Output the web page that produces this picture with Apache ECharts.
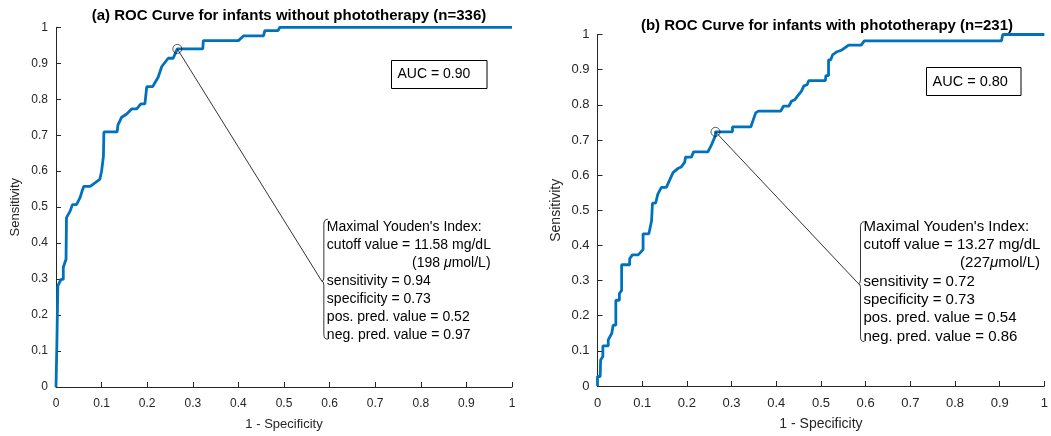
<!DOCTYPE html>
<html>
<head>
<meta charset="utf-8">
<script src="https://cdn.jsdelivr.net/npm/echarts@6/dist/echarts.min.js"></script>
<style>
html,body{margin:0;padding:0;background:#fff;}
#c{width:1051px;height:436px;}
</style>
</head>
<body>
<div id="c"></div>
<script>
// ---- Data ----
const titleA = "(a) ROC Curve for infants without phototherapy (n=336)";
const titleB = "(b) ROC Curve for infants with phototherapy (n=231)";
const xName = "1 - Specificity";
const yName = "Sensitivity";
const tickValues = [0,0.1,0.2,0.3,0.4,0.5,0.6,0.7,0.8,0.9,1];

// (a) without phototherapy: 1 - specificity and sensitivity
const fprA = [0,0.002,0.002,0.004,0.004,0.011,0.016,0.016,0.022,0.023,0.023,0.031,0.036,0.045,0.053,0.057,0.061,0.075,0.096,0.100,0.104,0.105,0.134,0.136,0.144,0.155,0.166,0.177,0.186,0.195,0.199,0.212,0.224,0.232,0.246,0.257,0.266,0.322,0.323,0.400,0.411,0.455,0.458,0.487,0.491,1];
const tprA = [0,0,0.125,0.13,0.281,0.299,0.299,0.333,0.355,0.355,0.471,0.489,0.507,0.507,0.527,0.544,0.558,0.558,0.577,0.60,0.641,0.709,0.709,0.729,0.750,0.759,0.773,0.773,0.787,0.787,0.835,0.835,0.861,0.891,0.914,0.914,0.94,0.94,0.963,0.963,0.976,0.976,0.991,0.991,1,1];
const optimalA = [0.266, 0.94];
const aucA = "AUC = 0.90";
const youdenA = ["Maximal Youden's Index:", "cutoff value = 11.58 mg/dL", "(198 ", "μ", "mol/L)", "sensitivity = 0.94", "specificity = 0.73", "pos. pred. value = 0.52", "neg. pred. value = 0.97"];
const calloutA = [0.583, 0.294];

// (b) with phototherapy
const fprB = [0,0,0.006,0.007,0.012,0.012,0.024,0.024,0.032,0.035,0.041,0.041,0.049,0.049,0.054,0.054,0.072,0.072,0.078,0.091,0.102,0.102,0.115,0.121,0.123,0.130,0.135,0.137,0.143,0.154,0.169,0.180,0.187,0.195,0.197,0.210,0.215,0.247,0.254,0.264,0.264,0.302,0.302,0.343,0.354,0.360,0.410,0.416,0.428,0.434,0.442,0.447,0.456,0.462,0.469,0.473,0.510,0.511,0.517,0.517,0.522,0.526,0.536,0.539,0.547,0.562,0.590,0.597,0.904,0.907,1];
const tprB = [0,0.027,0.027,0.074,0.084,0.114,0.114,0.131,0.150,0.173,0.173,0.244,0.244,0.263,0.272,0.345,0.345,0.362,0.373,0.373,0.388,0.433,0.433,0.470,0.520,0.520,0.546,0.551,0.565,0.565,0.607,0.619,0.623,0.636,0.651,0.651,0.666,0.666,0.683,0.713,0.723,0.723,0.737,0.737,0.777,0.782,0.782,0.796,0.796,0.810,0.815,0.824,0.838,0.854,0.857,0.869,0.869,0.883,0.883,0.928,0.928,0.942,0.951,0.956,0.956,0.970,0.970,0.982,0.982,1,1];
const optimalB = [0.264, 0.723];
const aucB = "AUC = 0.80";
const youdenB = ["Maximal Youden's Index:", "cutoff value = 13.27 mg/dL", "(227", "μ", "mol/L)", "sensitivity = 0.72", "specificity = 0.73", "pos. pred. value = 0.54", "neg. pred. value = 0.86"];
const calloutB = [0.584, 0.291];

// ---- Chart ----
const FONT = "'Liberation Sans', Arial, Helvetica, sans-serif";
const INK = '#262626';
const BLUE = '#0072BD';

function zip(a, b){ return a.map((v,i)=>[v,b[i]]); }
const mctx = document.createElement('canvas').getContext('2d');
function textW(t, fs){ mctx.font = fs + 'px ' + FONT; return mctx.measureText(t).width; }

function axisX(gi, fs){
  return {
    type:'value', gridIndex:gi, min:0, max:1, interval:0.1,
    name:xName, nameLocation:'middle', nameGap:31,
    nameTextStyle:{fontFamily:FONT, fontSize:fs, color:INK},
    axisLine:{show:true, lineStyle:{color:INK, width:1}},
    axisTick:{show:true, inside:true, length:5, lineStyle:{color:INK}},
    axisLabel:{fontFamily:FONT, fontSize:fs-1, color:INK, margin:11,
      formatter:v=>String(+v.toFixed(1))},
    splitLine:{show:false}
  };
}
function axisY(gi, fs){
  return {
    type:'value', gridIndex:gi, min:0, max:1, interval:0.1,
    name:yName, nameLocation:'middle', nameGap:34, nameRotate:90,
    nameTextStyle:{fontFamily:FONT, fontSize:fs, color:INK},
    axisLine:{show:true, lineStyle:{color:INK, width:1}},
    axisTick:{show:true, inside:true, length:5, lineStyle:{color:INK}},
    axisLabel:{fontFamily:FONT, fontSize:fs-1, color:INK, margin:8,
      formatter:v=>String(+v.toFixed(1))},
    splitLine:{show:false}
  };
}

function seriesFor(gi, fpr, tpr, opt, callout){
  return [
    {type:'line', xAxisIndex:gi, yAxisIndex:gi, data:zip(fpr,tpr), showSymbol:false, symbol:'none',
     lineStyle:{color:BLUE, width:2.8}, z:3, animation:false},
    {type:'line', xAxisIndex:gi, yAxisIndex:gi, data:[opt, callout], symbol:'none',
     lineStyle:{color:'#000', width:0.8}, z:4, animation:false},
    {type:'scatter', xAxisIndex:gi, yAxisIndex:gi, data:[opt], symbol:'circle', symbolSize:9,
     itemStyle:{color:'rgba(0,0,0,0)', borderColor:'#000', borderWidth:0.8}, z:5, animation:false}
  ];
}

const chart = echarts.init(document.getElementById('c'), null, {renderer:'canvas'});
chart.setOption({
  backgroundColor:'#fff',
  animation:false,
  grid:[
    {left:56, top:27.3, width:456, height:360.7},
    {left:597.5, top:34.5, width:449.5, height:353.5}
  ],
  title:[
    {text:titleA, left:284, top:3, textAlign:'center',
     textStyle:{fontFamily:FONT, fontSize:15, fontWeight:'bold', color:'#000'}},
    {text:titleB, left:822, top:13, textAlign:'center',
     textStyle:{fontFamily:FONT, fontSize:15, fontWeight:'bold', color:'#000'}}
  ],
  xAxis:[axisX(0,13), axisX(1,14)],
  yAxis:[axisY(0,13), axisY(1,14)],
  series:[].concat(seriesFor(0,fprA,tprA,optimalA,calloutA), seriesFor(1,fprB,tprB,optimalB,calloutB))
});

function annotation(gi, callout, lines, fs, lineGap, firstOff, box, auc, afs){
  const p = chart.convertToPixel({gridIndex:gi}, callout);
  const tx = p[0], ty = p[1];
  const els = [];
  const top = ty - 62, bot = ty + 58, vx = tx + 2;
  const st = {stroke:'#000', lineWidth:0.8, fill:null};
  els.push({type:'bezierCurve', shape:{x1:vx+4, y1:top, cpx1:vx, cpy1:top, x2:vx, y2:top+5}, style:st, z:10});
  els.push({type:'line', shape:{x1:vx, y1:top+5, x2:vx, y2:ty-4}, style:st, z:10});
  els.push({type:'bezierCurve', shape:{x1:vx, y1:ty-4, cpx1:vx, cpy1:ty, x2:tx, y2:ty}, style:st, z:10});
  els.push({type:'bezierCurve', shape:{x1:tx, y1:ty, cpx1:vx, cpy1:ty, x2:vx, y2:ty+4}, style:st, z:10});
  els.push({type:'line', shape:{x1:vx, y1:ty+4, x2:vx, y2:bot-5}, style:st, z:10});
  els.push({type:'bezierCurve', shape:{x1:vx, y1:bot-5, cpx1:vx, cpy1:bot, x2:vx+4, y2:bot}, style:st, z:10});
  const x0 = tx + 5;
  const rows = [lines[0], lines[1], null, lines[5], lines[6], lines[7], lines[8]];
  rows.forEach((t,i)=>{
    if(t===null) return;
    els.push({type:'text', x:x0, y:ty+firstOff+i*lineGap,
      style:{text:t, fontFamily:FONT, fontSize:fs, fill:'#000', verticalAlign:'middle', align:'left'}, z:10});
  });
  const rightEdge = x0 + textW(lines[1], fs);
  const muW = textW(lines[2], fs) + textW(lines[3], fs) + textW(lines[4], fs);
  els.push({type:'text', x:rightEdge - muW, y:ty+firstOff+2*lineGap,
    style:{text:'{a|'+lines[2]+'}{m|'+lines[3]+'}{a|'+lines[4]+'}', verticalAlign:'middle', align:'left',
      rich:{a:{fontFamily:FONT, fontSize:fs, fill:'#000', color:'#000'},
            m:{fontFamily:FONT, fontSize:fs, fontStyle:'italic', fill:'#000', color:'#000'}}}, z:10});
  els.push({type:'rect', shape:{x:box[0], y:box[1], width:box[2], height:box[3]},
    style:{fill:'#fff', stroke:'#000', lineWidth:1}, z:10});
  els.push({type:'text', x:box[0]+6, y:box[1]+box[3]/2,
    style:{text:auc, fontFamily:FONT, fontSize:afs, fill:'#000', verticalAlign:'middle', align:'left'}, z:11});
  return els;
}

chart.setOption({graphic:{elements:[].concat(
  annotation(0, calloutA, youdenA, 14, 18, -54, [391.5, 60.5, 95.5, 28], aucA, 14),
  annotation(1, calloutB, youdenB, 15, 18.3, -57, [926.5, 67.5, 94.5, 28], aucB, 14.5)
)}});
</script>
</body>
</html>
